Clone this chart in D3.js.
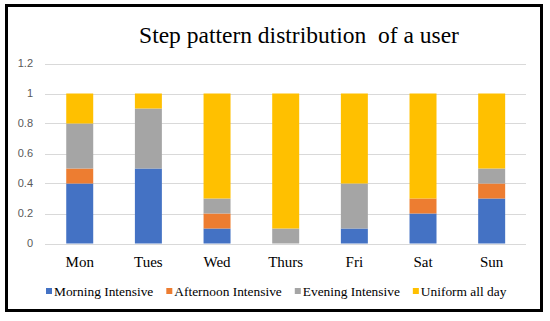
<!DOCTYPE html>
<html>
<head>
<meta charset="utf-8">
<script src="https://cdn.jsdelivr.net/npm/d3@7/dist/d3.min.js"></script>
<style>
  html, body { margin: 0; padding: 0; background: #fff; }
  svg { display: block; }
  .serif { font-family: 'Liberation Serif', 'Times New Roman', 'DejaVu Serif', serif; }
  .sans { font-family: 'Liberation Sans', Arial, sans-serif; }
</style>
</head>
<body>
<svg id="chart" width="550" height="321"></svg>
<script>
const days = ["Mon", "Tues", "Wed", "Thurs", "Fri", "Sat", "Sun"];
const seriesNames = ["Morning Intensive", "Afternoon Intensive", "Evening Intensive", "Uniform all day"];
const morning   = [0.4, 0.5, 0.1, 0.0, 0.1, 0.2, 0.3];
const afternoon = [0.1, 0.0, 0.1, 0.0, 0.0, 0.1, 0.1];
const evening   = [0.3, 0.4, 0.1, 0.1, 0.3, 0.0, 0.1];
const uniform   = [0.2, 0.1, 0.7, 0.9, 0.6, 0.7, 0.5];
const yTicks = [0, 0.2, 0.4, 0.6, 0.8, 1, 1.2];
const colors = ["#4472C4", "#ED7D31", "#A5A5A5", "#FFC000"];
const titleText = "Step pattern distribution  of a user";

const svg = d3.select("#chart");
const seriesVals = [morning, afternoon, evening, uniform];
const rows = days.map((d, i) => {
  const r = { day: d };
  seriesNames.forEach((s, j) => r[s] = seriesVals[j][i]);
  return r;
});

const x = d3.scaleBand().domain(days).range([45.4, 526])
  .paddingInner(0.607).paddingOuter(0.3035);
const y = d3.scaleLinear().domain([0, 1.2]).range([243.5, 63.5]);

// frame
svg.append("rect").attr("x", 6.5).attr("y", 5.5).attr("width", 535).attr("height", 305)
  .attr("fill", "#fff").attr("stroke", "#000").attr("stroke-width", 3);

// gridlines
svg.append("g").selectAll("line").data(yTicks).join("line")
  .attr("x1", 45).attr("x2", 526)
  .attr("y1", d => Math.round(y(d)) + 0.5).attr("y2", d => Math.round(y(d)) + 0.5)
  .attr("stroke", "#D9D9D9").attr("stroke-width", 1);

// y tick labels
svg.append("g").selectAll("text").data(yTicks).join("text")
  .attr("class", "sans")
  .attr("x", 33).attr("y", d => y(d)).attr("dy", "0.35em")
  .attr("text-anchor", "end")
  .style("font-size", "11px")
  .attr("fill", "#595959")
  .text(d => d3.format("~g")(d));

// stacked bars
const stack = d3.stack().keys(seriesNames)(rows);
svg.append("g").selectAll("g").data(stack).join("g")
  .attr("fill", (d, i) => colors[i])
  .selectAll("rect").data(d => d).join("rect")
  .attr("x", d => x(d.data.day))
  .attr("width", x.bandwidth())
  .attr("y", d => y(d[1]))
  .attr("height", d => y(d[0]) - y(d[1]));

// x labels
svg.append("g").selectAll("text").data(days).join("text")
  .attr("class", "serif")
  .attr("x", d => x(d) + x.bandwidth() / 2).attr("y", 267)
  .attr("text-anchor", "middle")
  .style("font-size", "15px")
  .attr("fill", "#000")
  .text(d => d);

// title
svg.append("text")
  .attr("class", "serif")
  .attr("x", 299).attr("y", 42.5)
  .attr("text-anchor", "middle")
  .style("font-size", "23.5px")
  .attr("fill", "#000")
  .style("white-space", "pre")
  .text(titleText);

// legend
const lg = svg.append("g");
let lx = 46;
seriesNames.forEach((s, i) => {
  lg.append("rect").attr("x", lx).attr("y", 288).attr("width", 6).attr("height", 6).attr("fill", colors[i]);
  const t = lg.append("text").attr("class", "serif").attr("x", lx + 8).attr("y", 295.5)
    .style("font-size", "13.4px")
    .attr("fill", "#000").text(s);
  lx = lx + 8 + t.node().getComputedTextLength() + 13;
});
</script>
</body>
</html>
